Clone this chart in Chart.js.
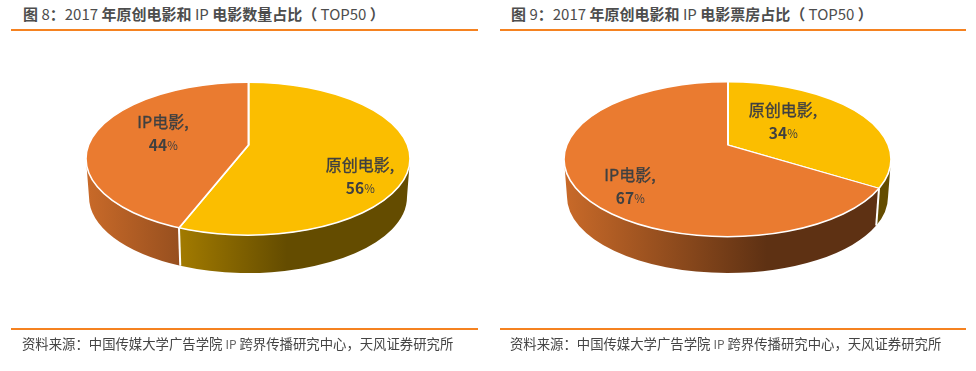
<!DOCTYPE html>
<html>
<head>
  <meta charset="UTF-8">
  <title>2017 原创电影和 IP 电影占比</title>
  <script src="https://cdn.jsdelivr.net/npm/chart.js"></script>
  <style>
    body {
      margin: 0;
      width: 976px;
      height: 371px;
      background: #fff;
      overflow: hidden;
      position: relative;
      font-family: "Noto Sans CJK SC", sans-serif;
    }
    canvas { position: absolute; top: 0; }
    .title, .source { position: absolute; white-space: nowrap; }
    .title {
      top: 3px;
      font-size: 15px;
      line-height: 22px;
      color: #4d4d4d;
      font-weight: bold;
    }
    .title span { font-weight: normal; }
    .source {
      top: 333px;
      font-size: 13.37px;
      line-height: 20px;
      color: #444;
    }
    .source span { font-size: 12px; color: #666; }
    .rule { position: absolute; height: 2px; background: #f58220; }
  </style>
</head>
<body>

  <div class="title" style="left: 23px;">图 <span>8</span>：<span>2017</span> 年原创电影和 <span>IP</span> 电影数量占比（ <span>TOP50</span> ）</div>
  <div class="rule" style="left: 11px; width: 467px; top: 29px;"></div>
  <div class="title" style="left: 511px;">图 <span>9</span>：<span>2017</span> 年原创电影和 <span>IP</span> 电影票房占比（ <span>TOP50</span> ）</div>
  <div class="rule" style="left: 500px; width: 466px; top: 29px;"></div>

  <canvas id="pieCount" width="488" height="371" style="left: 0;"></canvas>
  <canvas id="pieBox" width="488" height="371" style="left: 488px;"></canvas>

  <div class="rule" style="left: 11px; width: 467px; top: 328px;"></div>
  <div class="source" style="left: 22px;">资料来源：中国传媒大学广告学院 <span>IP</span> 跨界传播研究中心，天风证券研究所</div>
  <div class="rule" style="left: 500px; width: 466px; top: 328px;"></div>
  <div class="source" style="left: 510px;">资料来源：中国传媒大学广告学院 <span>IP</span> 跨界传播研究中心，天风证券研究所</div>

  <script>
    const categories = ["原创电影", "IP电影"];
    const countValues = [56, 44];
    const boxValues = [34, 67];
    const sliceColors = ["#fbbe00", "#ea7b30"];

    // squashed pie with a side wall, the apex sits a bit above the ellipse centre
    function shade(hex, f) {
      const n = parseInt(hex.slice(1), 16);
      const r = Math.round((n >> 16) * f);
      const g = Math.round(((n >> 8) & 255) * f);
      const b = Math.round((n & 255) * f);
      return "rgb(" + r + "," + g + "," + b + ")";
    }

    // where the slice edge at this angle meets the rim, as an ellipse parameter
    function rimParam(angle, o) {
      const px = (o.ax - o.cx) / o.rx, py = (o.ay - o.cy) / o.ry;
      const dx = Math.cos(angle), dy = Math.sin(angle);
      const b = px * dx + py * dy;
      const c = px * px + py * py - 1;
      const s = -b + Math.sqrt(b * b - c);
      let t = Math.atan2(py + s * dy, px + s * dx);
      if (t < -Math.PI / 2 - 1e-6) t += Math.PI * 2;
      return t;
    }

    function drawWalls(chart, o) {
      const ctx = chart.ctx;
      const arcs = chart.getDatasetMeta(0).data;
      const colors = chart.data.datasets[0].backgroundColor;
      const edges = [];
      arcs.forEach((arc, i) => {
        let t1 = rimParam(arc.startAngle, o);
        let t2 = rimParam(arc.endAngle, o);
        if (t2 <= t1) t2 += Math.PI * 2;
        const from = Math.max(t1, 0), to = Math.min(t2, Math.PI);
        if (t2 > 0 && t2 < Math.PI) edges.push(t2);
        if (to <= from) return;
        const grad = ctx.createLinearGradient(o.cx - o.rx, 0, o.cx + o.rx, 0);
        grad.addColorStop(0, shade(colors[i], 0.86));
        grad.addColorStop(0.62, shade(colors[i], 0.4));
        grad.addColorStop(1, shade(colors[i], 0.4));
        ctx.beginPath();
        ctx.ellipse(o.cx, o.cy, o.rx, o.ry, 0, from, to);
        ctx.ellipse(o.cx, o.by, o.brx, o.bry, 0, to, from, true);
        ctx.closePath();
        ctx.fillStyle = grad;
        ctx.fill();
      });
      ctx.strokeStyle = "#fff";
      ctx.lineWidth = 2;
      edges.forEach(t => {
        ctx.beginPath();
        ctx.moveTo(o.cx + o.rx * Math.cos(t), o.cy + o.ry * Math.sin(t));
        ctx.lineTo(o.cx + o.brx * Math.cos(t), o.by + o.bry * Math.sin(t));
        ctx.stroke();
      });
    }

    const pie3d = {
      id: "pie3d",
      beforeDatasetsDraw(chart, args, o) {
        const ctx = chart.ctx;
        drawWalls(chart, o);
        const arc = chart.getDatasetMeta(0).data[0];
        ctx.save();
        ctx.beginPath();
        ctx.ellipse(o.cx, o.cy, o.rx, o.ry, 0, 0, Math.PI * 2);
        ctx.clip();
        ctx.translate(o.ax, o.ay);
        ctx.scale(1, o.ry / o.rx);
        ctx.translate(-arc.x, -arc.y);
      },
      afterDatasetsDraw(chart, args, o) {
        const ctx = chart.ctx;
        ctx.restore();
        ctx.beginPath();
        ctx.ellipse(o.cx, o.cy, o.rx, o.ry, 0, 0, Math.PI * 2);
        ctx.strokeStyle = "#fff";
        ctx.lineWidth = 1.6;
        ctx.stroke();
        // data labels, the % sign is narrower than the digits
        const values = chart.data.datasets[0].data;
        ctx.textBaseline = "middle";
        ctx.fillStyle = "#404040";
        ctx.strokeStyle = "#404040";
        ctx.lineWidth = 0.35;
        chart.data.labels.forEach((label, i) => {
          const p = o.labelAt[i];
          ctx.textAlign = "center";
          ctx.font = '16px "Noto Sans CJK SC"';
          ctx.fillText(label + ",", p[0], p[1]);
          ctx.strokeText(label + ",", p[0], p[1]);
          const num = String(values[i]);
          ctx.font = 'bold 15.5px "Noto Sans CJK SC"';
          const w1 = ctx.measureText(num).width;
          ctx.textAlign = "left";
          const left = p[0] - (w1 + 10) / 2;
          ctx.fillText(num, left, p[1] + 23.5);
          ctx.font = '11.5px "Noto Sans CJK SC"';
          ctx.fillText("%", left + w1, p[1] + 24);
        });
      }
    };

    function makePie(id, values, geom) {
      return new Chart(document.getElementById(id), {
        type: "pie",
        data: {
          labels: categories,
          datasets: [{
            data: values,
            backgroundColor: sliceColors,
            borderColor: "#fff",
            borderWidth: 2,
            radius: 420,
            clip: false
          }]
        },
        options: {
          responsive: false,
          animation: false,
          plugins: {
            legend: { display: false },
            tooltip: { enabled: false },
            pie3d: geom
          }
        },
        plugins: [pie3d]
      });
    }

    makePie("pieCount", countValues, {
      cx: 248, cy: 158.7, rx: 162, ry: 76.5,
      ax: 248.5, ay: 145,
      by: 197, brx: 159, bry: 76,
      labelAt: [[360, 165], [163, 122]]
    });

    makePie("pieBox", boxValues, {
      cx: 239.5, cy: 159.2, rx: 163.5, ry: 77.5,
      ax: 240, ay: 145,
      by: 197, brx: 160.5, bry: 76,
      labelAt: [[295, 110], [142, 175]]
    });
  </script>
</body>
</html>
